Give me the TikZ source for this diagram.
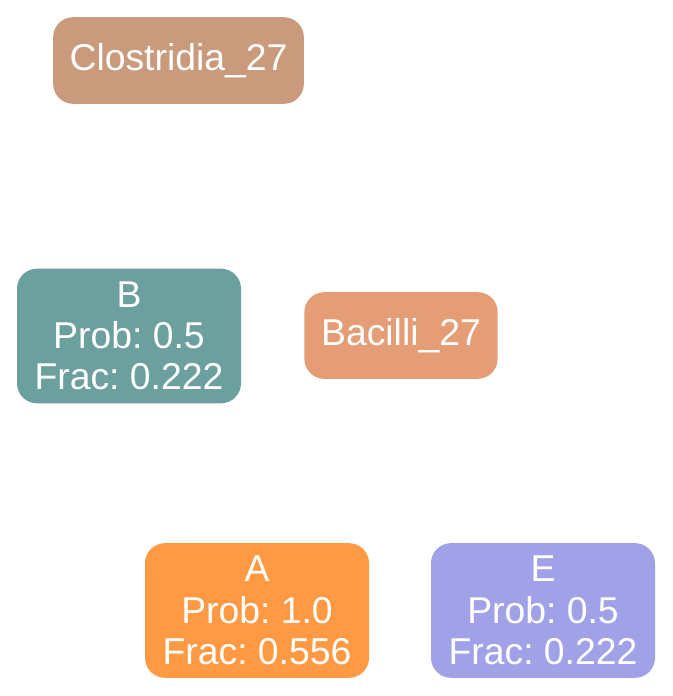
\documentclass[tikz,border=0pt]{standalone}
\usepackage{fontspec}
\setmainfont{Liberation Sans}
\usepackage{xcolor}
\usepackage{tikz}
\usetikzlibrary{positioning}
\definecolor{clostcol}{RGB}{201,154,124}
\definecolor{bacilcol}{RGB}{229,157,117}
\definecolor{tealcol}{RGB}{108,160,158}
\definecolor{orangecol}{RGB}{255,153,68}
\definecolor{lilaccol}{RGB}{161,161,232}
\frenchspacing

\begin{document}
\begin{tikzpicture}[
    x=0.75pt, y=-0.75pt,
    taxon/.style={rectangle, rounded corners=15pt, draw=none, text=white, minimum height=65pt, align=center, font=\fontsize{28}{31}\selectfont},
    group/.style={rectangle, rounded corners=15pt, draw=none, text=white, minimum width=168pt, minimum height=101pt, align=center, font=\fontsize{28}{31}\selectfont}
]
\useasboundingbox (0,0) rectangle (672,696);
\node[taxon, fill=clostcol, minimum width=188pt] (clostridia) at (178.5,60.5) {Clostridia\_27};
\node[taxon, fill=bacilcol, minimum width=145pt] (bacilli) at (401,335.5) {Bacilli\_27};

\node[group, fill=tealcol] (b) at (129,336) {B\\Prob: 0.5\\Frac: 0.222};
\node[group, fill=orangecol] (a) at (257,610.5) {A\\Prob: 1.0\\Frac: 0.556};
\node[group, fill=lilaccol] (e) at (543,610.5) {E\\Prob: 0.5\\Frac: 0.222};
\end{tikzpicture}
\end{document}
